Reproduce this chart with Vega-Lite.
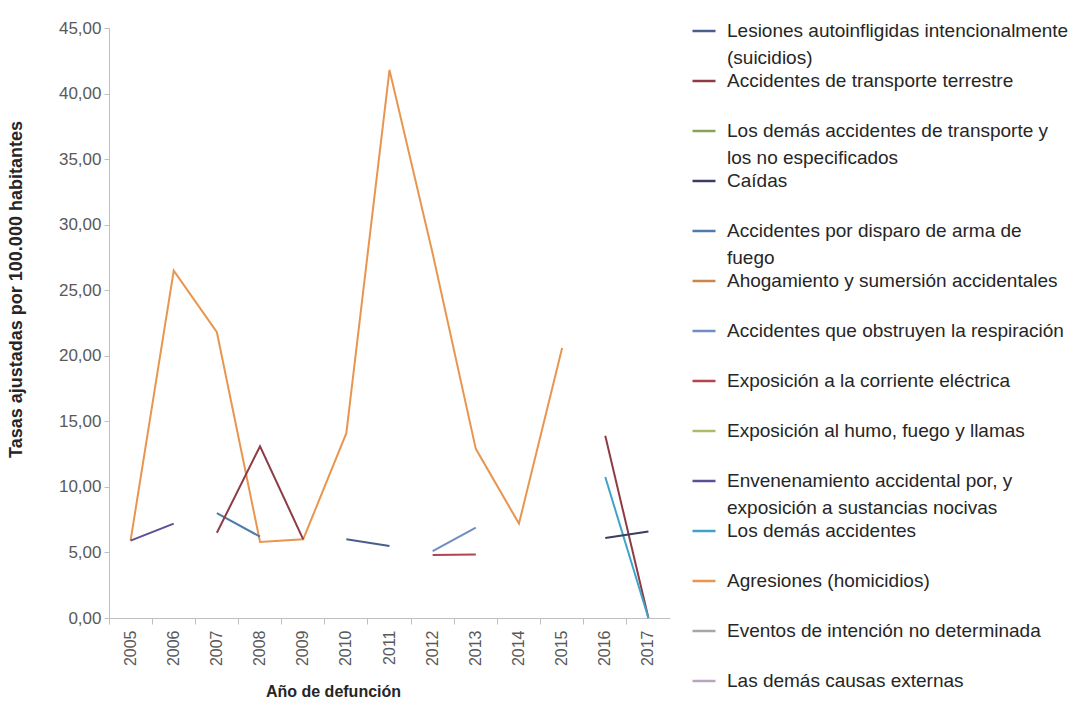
{
  "$schema": "https://vega.github.io/schema/vega-lite/v6.json",
  "width": 561,
  "height": 590,
  "padding": {"left": 7, "top": 18, "right": 0, "bottom": 0},
  "autosize": {"type": "pad"},
  "background": "white",
  "config": {
    "view": {"stroke": null},
    "font": "Liberation Sans",
    "style": {"guide-label": {"lineHeight": 27}},
    "axis": {"grid": false, "domainColor": "#BFBFBF", "tickColor": "#BFBFBF", "labelColor": "#595959", "titleColor": "#262626", "titleFontWeight": "bold"}
  },
  "data": {"values": [
    {"Año": "2005", "Causa": "Agresiones (homicidios)", "tramo": "a", "Tasa": 5.9},
    {"Año": "2006", "Causa": "Agresiones (homicidios)", "tramo": "a", "Tasa": 26.5},
    {"Año": "2007", "Causa": "Agresiones (homicidios)", "tramo": "a", "Tasa": 21.8},
    {"Año": "2008", "Causa": "Agresiones (homicidios)", "tramo": "a", "Tasa": 5.8},
    {"Año": "2009", "Causa": "Agresiones (homicidios)", "tramo": "a", "Tasa": 6.0},
    {"Año": "2010", "Causa": "Agresiones (homicidios)", "tramo": "a", "Tasa": 14.1},
    {"Año": "2011", "Causa": "Agresiones (homicidios)", "tramo": "a", "Tasa": 41.8},
    {"Año": "2012", "Causa": "Agresiones (homicidios)", "tramo": "a", "Tasa": 27.8},
    {"Año": "2013", "Causa": "Agresiones (homicidios)", "tramo": "a", "Tasa": 12.9},
    {"Año": "2014", "Causa": "Agresiones (homicidios)", "tramo": "a", "Tasa": 7.2},
    {"Año": "2015", "Causa": "Agresiones (homicidios)", "tramo": "a", "Tasa": 20.6},
    {"Año": "2005", "Causa": "Envenenamiento accidental por, y exposición a sustancias nocivas", "tramo": "a", "Tasa": 5.9},
    {"Año": "2006", "Causa": "Envenenamiento accidental por, y exposición a sustancias nocivas", "tramo": "a", "Tasa": 7.2},
    {"Año": "2007", "Causa": "Accidentes por disparo de arma de fuego", "tramo": "a", "Tasa": 8.0},
    {"Año": "2008", "Causa": "Accidentes por disparo de arma de fuego", "tramo": "a", "Tasa": 6.2},
    {"Año": "2007", "Causa": "Accidentes de transporte terrestre", "tramo": "a", "Tasa": 6.5},
    {"Año": "2008", "Causa": "Accidentes de transporte terrestre", "tramo": "a", "Tasa": 13.1},
    {"Año": "2009", "Causa": "Accidentes de transporte terrestre", "tramo": "a", "Tasa": 6.0},
    {"Año": "2016", "Causa": "Accidentes de transporte terrestre", "tramo": "b", "Tasa": 13.9},
    {"Año": "2017", "Causa": "Accidentes de transporte terrestre", "tramo": "b", "Tasa": 0.0},
    {"Año": "2010", "Causa": "Lesiones autoinfligidas intencionalmente (suicidios)", "tramo": "a", "Tasa": 6.0},
    {"Año": "2011", "Causa": "Lesiones autoinfligidas intencionalmente (suicidios)", "tramo": "a", "Tasa": 5.5},
    {"Año": "2012", "Causa": "Exposición a la corriente eléctrica", "tramo": "a", "Tasa": 4.8},
    {"Año": "2013", "Causa": "Exposición a la corriente eléctrica", "tramo": "a", "Tasa": 4.85},
    {"Año": "2012", "Causa": "Accidentes que obstruyen la respiración", "tramo": "a", "Tasa": 5.1},
    {"Año": "2013", "Causa": "Accidentes que obstruyen la respiración", "tramo": "a", "Tasa": 6.9},
    {"Año": "2016", "Causa": "Los demás accidentes", "tramo": "a", "Tasa": 10.75},
    {"Año": "2017", "Causa": "Los demás accidentes", "tramo": "a", "Tasa": 0.0},
    {"Año": "2016", "Causa": "Caídas", "tramo": "a", "Tasa": 6.1},
    {"Año": "2017", "Causa": "Caídas", "tramo": "a", "Tasa": 6.6}
  ]},
  "layer": [
    {
      "mark": {"type": "line", "strokeWidth": 2},
      "encoding": {
        "x": {
          "field": "Año", "type": "ordinal", "bandPosition": 0.5,
          "scale": {"type": "band", "paddingInner": 0, "paddingOuter": 0, "domain": ["2005","2006","2007","2008","2009","2010","2011","2012","2013","2014","2015","2016","2017"]},
          "axis": {"orient": "bottom", "title": "Año de defunción", "titleFontSize": 16, "titleX": 224, "titlePadding": 18, "labelAngle": -90, "labelFontSize": 16, "ticks": false, "tickSize": 0, "labelPadding": 12}
        },
        "y": {
          "field": "Tasa", "type": "quantitative",
          "scale": {"domain": [0, 45], "nice": false},
          "axis": {"title": "Tasas ajustadas por 100.000 habitantes", "titleFontSize": 18, "titleY": 261, "titlePadding": 33, "values": [0,5,10,15,20,25,30,35,40,45], "labelExpr": "replace(format(datum.value, '.2f'), '.', ',')", "labelFontSize": 17, "tickSize": 5, "labelPadding": 3}
        },
        "color": {
          "field": "Causa", "type": "nominal",
          "scale": {
            "domain": [
              "Lesiones autoinfligidas intencionalmente (suicidios)",
              "Accidentes de transporte terrestre",
              "Los demás accidentes de transporte y los no especificados",
              "Caídas",
              "Accidentes por disparo de arma de fuego",
              "Ahogamiento y sumersión accidentales",
              "Accidentes que obstruyen la respiración",
              "Exposición a la corriente eléctrica",
              "Exposición al humo, fuego y llamas",
              "Envenenamiento accidental por, y exposición a sustancias nocivas",
              "Los demás accidentes",
              "Agresiones (homicidios)",
              "Eventos de intención no determinada",
              "Las demás causas externas"
            ],
            "range": ["#4A5D8C", "#8E3B46", "#8DA05A", "#3B3D63", "#4E7BA8", "#C8874E", "#6F8FC0", "#B0454F", "#A9BC6A", "#5E4E96", "#3FA3C8", "#E8964F", "#A6A6A6", "#B7A6C0"]
          },
          "legend": {
            "orient": "none", "legendX": 582, "legendY": -10, "title": null,
            "symbolType": "stroke", "symbolSize": 529, "symbolStrokeWidth": 2.5,
            "labelFontSize": 19, "labelColor": "#262626", "labelLimit": 400, "labelBaseline": "middle", "labelOffset": 10,
            "rowPadding": -25,
            "labelExpr": "datum.label == 'Lesiones autoinfligidas intencionalmente (suicidios)' ? ['Lesiones autoinfligidas intencionalmente', '(suicidios)'] : datum.label == 'Los demás accidentes de transporte y los no especificados' ? ['Los demás accidentes de transporte y', 'los no especificados'] : datum.label == 'Accidentes por disparo de arma de fuego' ? ['Accidentes por disparo de arma de', 'fuego'] : datum.label == 'Envenenamiento accidental por, y exposición a sustancias nocivas' ? ['Envenenamiento accidental por, y', 'exposición a sustancias nocivas'] : [datum.label, '']"
          }
        },
        "detail": {"field": "tramo"}
      }
    },
    {
      "mark": {"type": "line", "opacity": 0},
      "encoding": {
        "x": {"field": "Año", "type": "ordinal", "axis": {"orient": "bottom", "bandPosition": 0, "labels": false, "title": null, "ticks": true, "tickSize": 6, "domain": false}},
        "y": {
          "field": "Tasa", "type": "quantitative",
          "axis": {"title": "Tasas ajustadas por 100.000 habitantes", "titleFontSize": 18, "titleY": 261, "titlePadding": 33, "values": [0,5,10,15,20,25,30,35,40,45], "labelExpr": "replace(format(datum.value, '.2f'), '.', ',')", "labelFontSize": 17, "tickSize": 5, "labelPadding": 3}
        },
        "detail": {"field": "Causa"}
      }
    }
  ],
  "resolve": {"axis": {"x": "independent"}}
}
